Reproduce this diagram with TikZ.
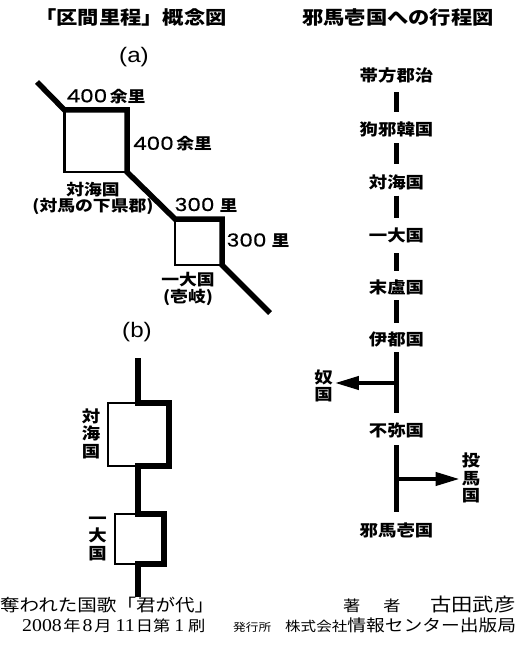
\documentclass[tikz,border=0pt]{standalone}
\usepackage{fontspec}
\usetikzlibrary{arrows.meta}
\newfontfamily\jp[FakeStretch=1.15]{Noto Sans CJK JP}
\newfontfamily\dig[FakeStretch=1.2,FakeBold=0.6]{Poppins}
\newfontfamily\lsans[FakeStretch=1.15]{Liberation Sans}
\newfontfamily\lserif[FakeStretch=1.1]{Liberation Serif}
\newcommand\fs[1]{\fontsize{#1}{#1}\selectfont}
\newcommand\num[1]{{\dig\mdseries\fs{18}#1}}
\begin{document}
\begin{tikzpicture}[x=1pt,y=-1pt,
  lbl/.style={inner sep=0pt, font=\jp\bfseries\fs{16}},
  lbla/.style={inner sep=0pt, font=\jp\bfseries\fs{15.5}},
  titlebox/.style={inner sep=0pt, font=\jp\bfseries\fs{18.5}},
  latinlbl/.style={inner sep=0pt, font=\lsans\fs{21}},
  thickline/.style={line width=5.5pt, line join=miter},
  thickb/.style={line width=6pt, line join=miter},
  thinbox/.style={draw, line width=2.2pt, outer sep=0pt, inner sep=0pt},
  route/.style={line width=5.5pt},
  branch/.style={line width=4pt, -{Triangle[length=24pt,width=13pt]}},
  vert/.style={inner sep=0pt, align=center, font=\jp\bfseries\fontsize{16}{17.5}\selectfont},
  foot/.style={inner sep=0pt, anchor=base west, font=\jp},
]
\useasboundingbox[fill=white] (0,0) rectangle (517,663);

% ---------- titles ----------
\node[titlebox] (t1) at (131,17) {「区間里程」概念図};
\node[titlebox] (t2) at (398,17) {邪馬壱国への行程図};

% ---------- (a) ----------
\node[latinlbl] (pa) at (134,57) {(a)};
\node[thinbox, minimum width=62.5pt, minimum height=62pt] (A1) at (95.75,141) {};
\node[thinbox, minimum width=47pt, minimum height=46pt] (A2) at (198.5,242) {};
\coordinate (a0) at (37,82);
\coordinate (a9) at (270,313);
\draw[thickline] (a0) -- (A1.north west) -- (A1.north east) -- (A1.south east)
  -- (A2.north west) -- (A2.north east) -- (A2.south east) -- (a9);

\node[lbla] (la1) at (106,96.5) {\num{400}\hspace{2.5pt}余里};
\node[lbla] (la2) at (172.5,144) {\num{400}\hspace{2.5pt}余里};
\node[lbla] (la3) at (206,205) {\num{300}\hspace{5pt}里};
\node[lbla] (la4) at (258,240.5) {\num{300}\hspace{5pt}里};
\node[lbla] (la5) at (93,189.5) {対海国};
\node[lbla] (la6) at (93,206.5) {(対馬の下県郡)};
\node[lbla] (la7) at (188,280) {一大国};
\node[lbla] (la8) at (188,297.5) {(壱岐)};

% ---------- (b) ----------
\node[latinlbl] (pb) at (137,332) {(b)};
\node[thinbox, minimum width=61pt, minimum height=63pt] (B1) at (138.5,434.5) {};
\node[thinbox, minimum width=49pt, minimum height=50pt] (B2) at (139.5,539) {};
\coordinate (b0) at (137.5,358);
\coordinate (b9) at (137.5,597);
\draw[thickb] (b0) -- (b0 |- B1.north) -- (B1.north east) -- (B1.south east)
  -- (b0 |- B1.south) -- (b0 |- B2.north) -- (B2.north east) -- (B2.south east)
  -- (b0 |- B2.south) -- (b9);
\node[vert] (bt) at (91,433.5) {対\\海\\国};
\node[vert] (bi) at (97.5,538.5) {一\\大\\国};

% ---------- route chart ----------
\node[lbl] (r1) at (396.5,75.5) {帯方郡治};
\node[lbl] (r2) at (396.5,129.5) {狗邪韓国};
\node[lbl] (r3) at (396.5,182.5) {対海国};
\node[lbl] (r4) at (396.5,235) {一大国};
\node[lbl] (r5) at (396.5,287.5) {末盧国};
\node[lbl] (r6) at (396.5,339.5) {伊都国};
\node[lbl] (r7) at (396.5,430.5) {不弥国};
\node[lbl] (r8) at (396.5,530) {邪馬壱国};
\draw[route, shorten <=17pt, shorten >=17pt] (r1.center) -- (r2.center);
\draw[route, shorten <=14pt, shorten >=18pt] (r2.center) -- (r3.center);
\draw[route, shorten <=13pt, shorten >=17.5pt] (r3.center) -- (r4.center);
\draw[route, shorten <=18pt, shorten >=17pt] (r4.center) -- (r5.center);
\draw[route, shorten <=12.5pt, shorten >=16.5pt] (r5.center) -- (r6.center);
\draw[route, shorten <=12.5pt, shorten >=17.5pt] (r6.center) -- (r7.center);
\draw[route, shorten <=14.5pt, shorten >=18pt] (r7.center) -- (r8.center);

\node[vert] (na) at (323.5,386) {奴\\国};
\node[vert] (tm) at (471,478) {投\\馬\\国};
\coordinate (nb) at (396.5,383);
\coordinate (tb) at (396.5,479);
\draw[branch, shorten >=2pt] (nb) -- (nb -| na.east);
\draw[branch, shorten >=2pt] (tb) -- (tb -| tm.west);

% ---------- footer ----------
\node[foot, font=\jp\fs{17}] (f1) at (0,611.5) {奪われた国歌「君が代」};
\node[foot, font=\jp\fs{15}] (f2) at (343,611.5) {著\hspace{23pt}者};
\node[foot, font=\jp\fs{18.5}] (f3) at (430,611.5) {古田武彦};
\node[foot, font=\jp\fs{15}] (f4) at (22,631.5) {{\lserif\fs{18}2008}\hspace{1.5pt}年\hspace{2pt}{\lserif\fs{18}8}\hspace{2pt}月\hspace{4pt}{\lserif\fs{18}11}\hspace{1pt}日第\hspace{4pt}{\lserif\fs{18}1}\hspace{4pt}刷};
\node[foot, font=\jp\fs{11}] (f5) at (233,631.5) {発行所};
\node[foot, font=\jp\fs{13.5}] (f6) at (285,631.5) {株式会社{\fs{16.3}情報センター出版局}};
\end{tikzpicture}
\end{document}
